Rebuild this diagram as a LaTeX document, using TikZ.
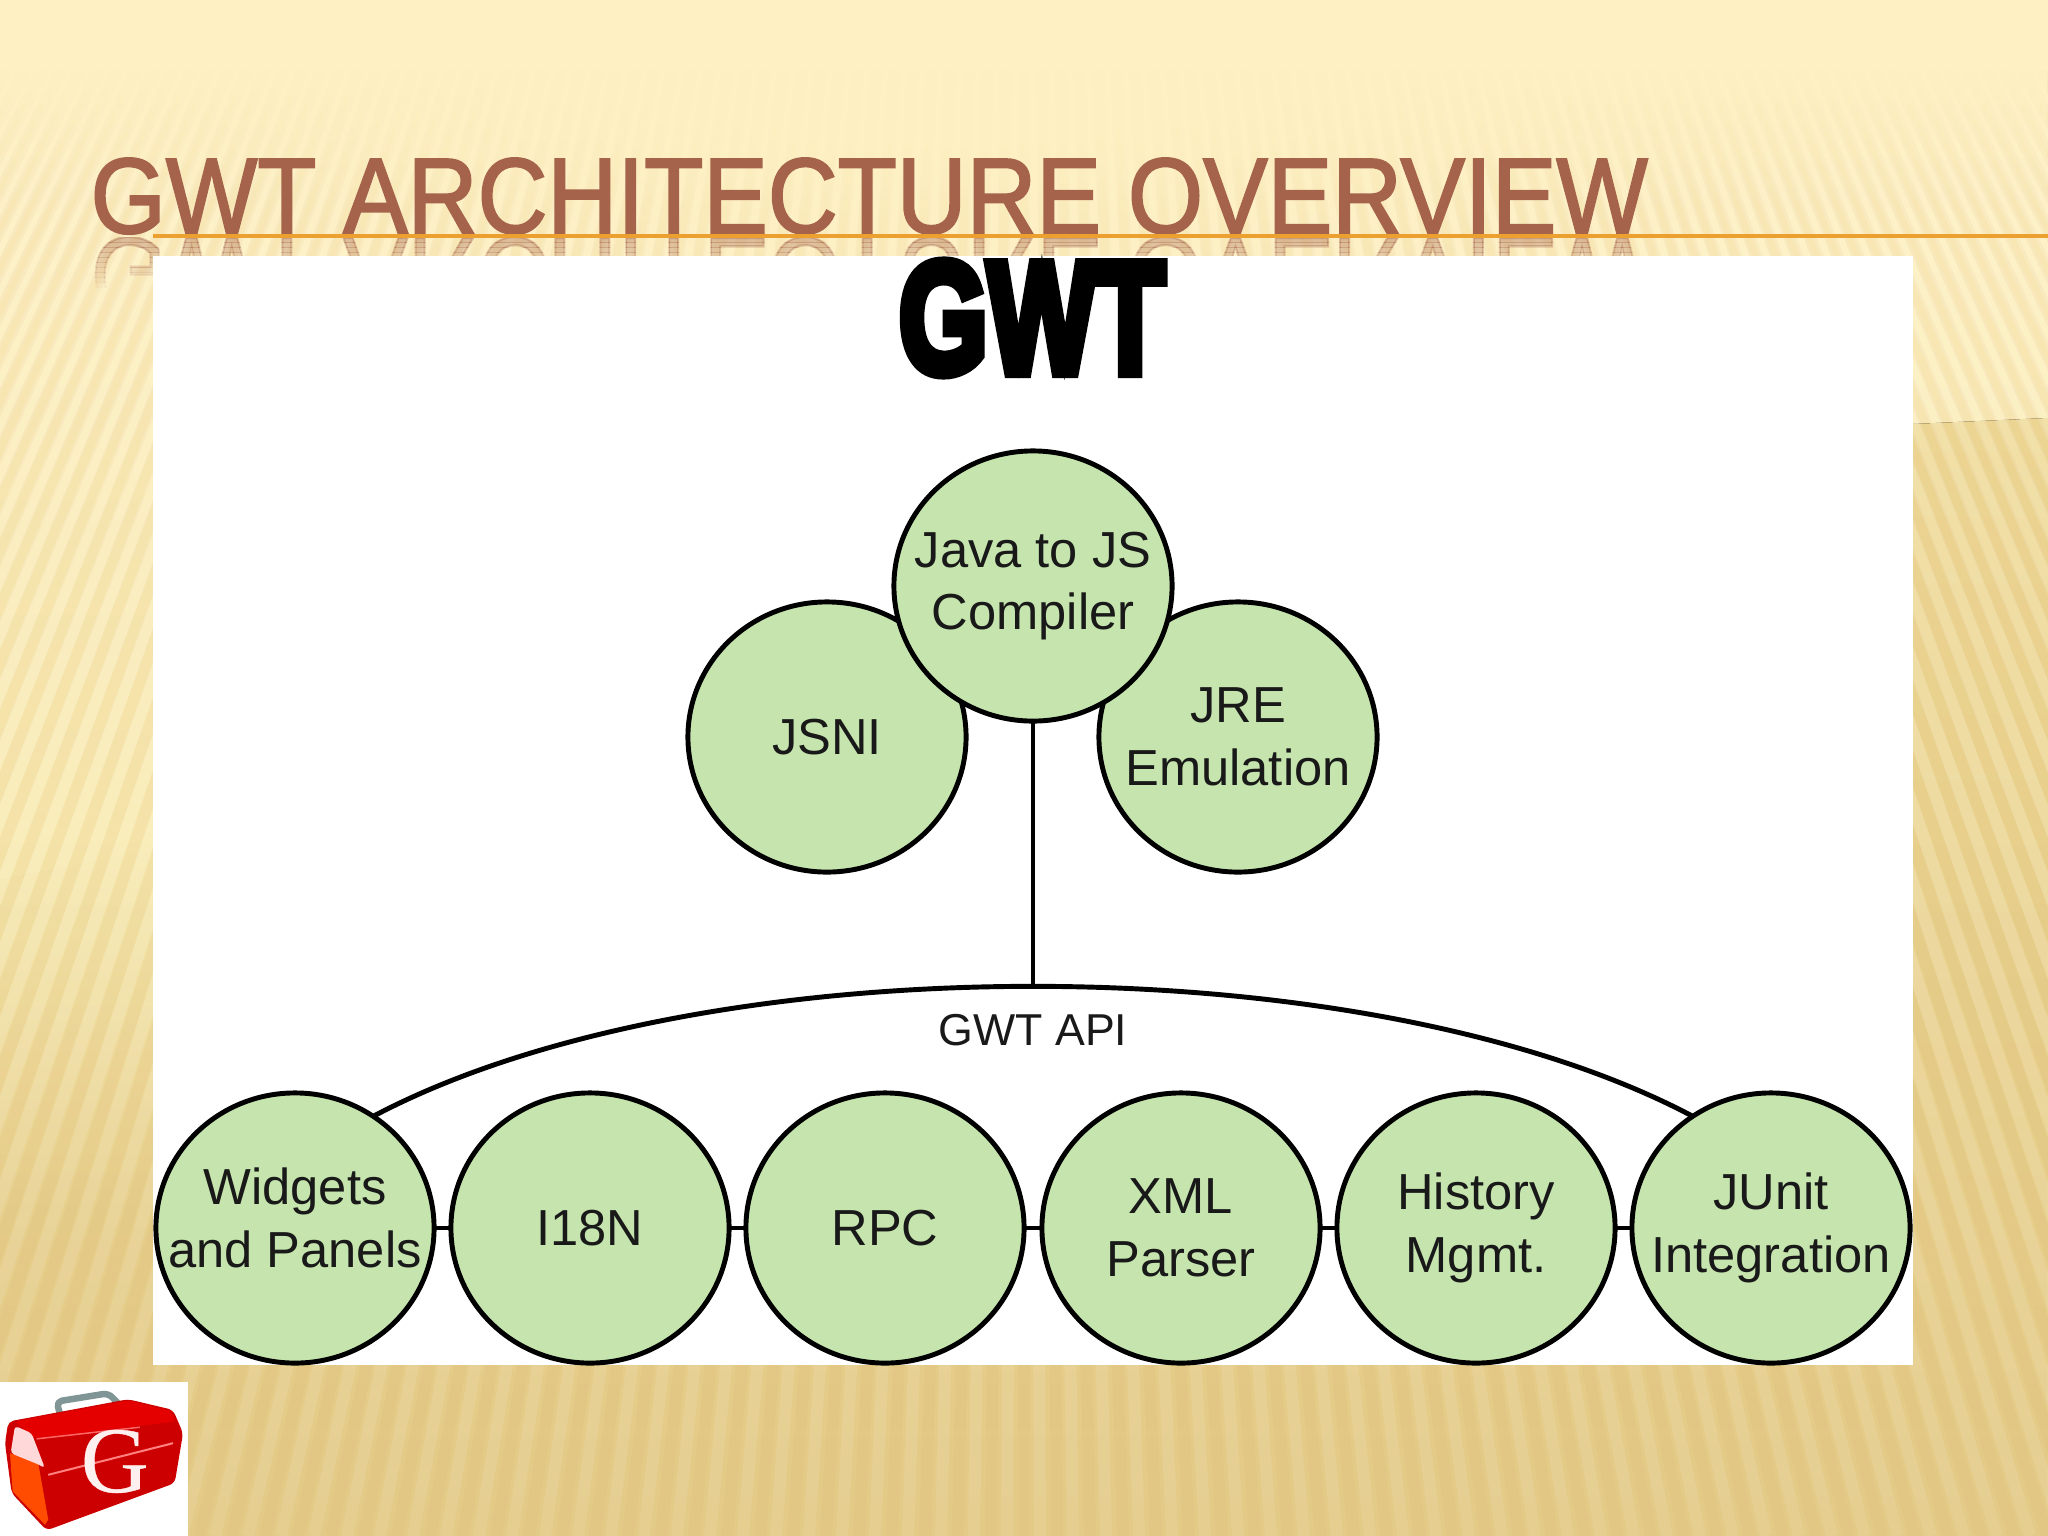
\documentclass[tikz,border=0pt]{standalone}
\usepackage{fontspec}
\usepackage{graphicx}
\usetikzlibrary{fadings,shapes.geometric}
\setmainfont{Liberation Sans}
\newfontfamily\titlefont[FakeBold=2]{Liberation Sans}
\newfontfamily\gwtfont[FakeBold=7]{Liberation Sans Bold}
\newfontfamily\boxfont[FakeBold=0.4]{Liberation Serif}
\definecolor{paletop}{HTML}{FEF0C2}
\definecolor{palelow}{HTML}{F7E9AE}
\definecolor{sandtop}{HTML}{EFDB98}
\definecolor{sandlow}{HTML}{E4CA87}
\definecolor{titlebrown}{HTML}{A5634C}
\definecolor{rulegold}{HTML}{EBA02F}
\definecolor{leafgreen}{HTML}{C6E5AE}
\tikzfading[name=softspot,inner color=transparent!0,outer color=transparent!100]
\tikzset{
  module/.style={ellipse,draw=black,line width=1.4pt,fill=leafgreen,minimum width=2.78cm,minimum height=2.70cm,
    inner sep=-20pt,outer sep=0pt,align=center,text=black!90,
    font=\fontsize{14.4}{17.8}\selectfont},
  link/.style={draw=black,line width=1.4pt},
  titletext/.style={anchor=base west,inner sep=0pt,text=titlebrown,
    font=\fontsize{30.5}{36}\titlefont},
  stripedark/.style={line width=.12cm,draw=black!30!orange!70!white,opacity=.08},
  stripelight/.style={line width=.12cm,draw=white,opacity=.15}
}
\newcommand{\slidetitle}{GWT ARCHITECTURE OVERVIEW}
\begin{document}
\begin{tikzpicture}[x=.01cm,y=-.01cm]
\useasboundingbox (0,0) rectangle (2048,1536);
% backdrop
\fill[paletop] (0,0) rectangle (2048,101);
\fill[top color=paletop,bottom color=palelow] (0,100) rectangle (2048,900);
\begin{scope}
\clip (0,880) -- (153,850) -- (1913,424) -- (2048,418) -- (2048,1536) -- (0,1536) -- cycle;
\fill[top color=sandtop,bottom color=sandlow] (0,418) rectangle (2048,1536);
\end{scope}
\fill[palelow,path fading=south] (0,850) rectangle (153,1250);
\begin{scope}
\clip (0,0) rectangle (2048,1536);
\foreach \i in {-60,...,60}{
  \draw[stripedark] (1024,-1800) -- ({1024+33*\i},1536);
  \draw[stripelight] (1024,-1800) -- ({1024+33*\i+16},1536);
}
\end{scope}
\fill[sandlow,path fading=north,opacity=.4] (0,900) rectangle (2048,1536);
\fill[paletop] (0,0) rectangle (2048,70);
\fill[paletop,path fading=south] (0,69) rectangle (2048,210);
\fill[paletop,path fading=softspot] (950,110) ellipse (900 and 190);
% title and its mirror image
\foreach \k in {0,...,9}{
  \begin{scope}
  \clip (0,{237+5*\k}) rectangle (2048,{242+5*\k});
  \node[titletext,opacity={.36-.036*\k}] (mirror\k) at (90,238) {\scalebox{.902}[-1]{\slidetitle}};
  \end{scope}
}
\node[titletext] (title) at (90,233) {\scalebox{.902}[1]{\slidetitle}};
\fill[rulegold] (153,234) rectangle (2048,238);
% panel
\fill[white] (153,256) rectangle (1913,1365);
\node[inner sep=0pt,text=black] (gwt) at (1032,318) {\gwtfont\fontsize{45}{45}\selectfont\scalebox{.72}[1]{GWT}};
% upper group
\node[module] (jsni) at (827,737) {JSNI};
\node[module] (jre) at (1238,737) {JRE\\Emulation};
\coordinate (apitop) at (1033,986);
\node[module] (compiler) at (1033,586) {Java to JS\\Compiler};
\draw[link] (compiler) -- (apitop);
% lower row
\node[module] (widgets) at (295,1228) {Widgets\\and Panels\\[-11.8pt]\mbox{}};
\node[module] (i18n) at (590,1228) {I18N};
\node[module] (rpc) at (885,1228) {RPC};
\node[module] (xml) at (1181,1228) {XML\\Parser};
\node[module] (history) at (1476,1228) {History\\Mgmt.};
\node[module] (junit) at (1771,1228) {JUnit\\Integration};
\foreach \a/\b in {widgets/i18n,i18n/rpc,rpc/xml,xml/history,history/junit}
  \draw[link] (\a) -- (\b);
\draw[link] (widgets.55) .. controls (700,943) and (1366,943) .. (junit.125);
\node[inner sep=0pt,text=black!90,font=\fontsize{12.7}{15}\selectfont] (api) at (1033,1030) {GWT API};
% toolbox logo
\fill[white] (0,1382) rectangle (188,1536);
\begin{scope}[shift={(0,1340)},x=.00333cm,y=-.00333cm]
\draw[line width=.065cm,draw=black!65!teal!50!white,line join=round,rounded corners=1.5pt] (185,240) -- (170,185) -- (325,160) -- (375,210);
\fill[red!80!black,rounded corners=1.5pt] (25,245) -- (385,178) -- (520,210) -- (550,280) -- (525,430) -- (140,572) -- (35,460) -- (15,310) -- cycle;
\fill[red!90!black,rounded corners=1pt] (45,245) -- (385,182) -- (515,214) -- (528,245) -- (105,295) -- cycle;
\fill[orange!60!red] (30,340) -- (115,370) -- (145,540) -- (135,555) -- (38,455) -- cycle;
\fill[red!15!white,rounded corners=1pt] (32,340) -- (45,258) -- (95,280) -- (135,385) -- (118,375) -- cycle;
\draw[red!50!white,line width=.02cm] (145,405) -- (520,310);
\draw[red!60!white,line width=.015cm] (110,297) -- (420,262);
\node[inner sep=0pt,text=red!6!white,font=\boxfont\fontsize{26.7}{27}\selectfont] (logoG) at (345,365) {G};
\end{scope}
\end{tikzpicture}
\end{document}
